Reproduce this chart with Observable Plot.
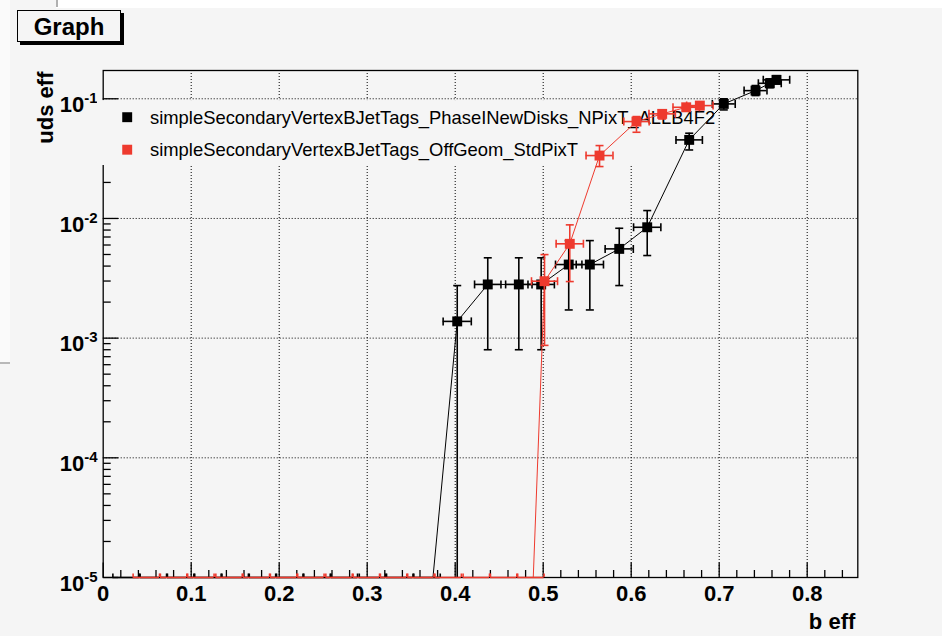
<!DOCTYPE html>
<html><head><meta charset="utf-8">
<script src="https://cdn.jsdelivr.net/npm/d3@7"></script>
<script src="https://cdn.jsdelivr.net/npm/@observablehq/plot@0.6"></script>
<style>
html,body{margin:0;padding:0;background:#f5f5f5;}
body{width:942px;height:636px;position:relative;overflow:hidden;font-family:"Liberation Sans",Arial,Helvetica,sans-serif;}
#chart{position:absolute;left:0;top:0;}
#topstrip{position:absolute;left:56px;top:0;width:886px;height:8px;background:#ffffff;}
#topline{position:absolute;left:56px;top:0;width:2px;height:7px;background:#b0b0b0;}
#leftstrip{position:absolute;left:0;top:0;width:10px;height:362px;background:#fafafa;border-bottom:2px solid #b8b8b8;}
#title{position:absolute;left:17px;top:10px;width:102px;height:30px;border:1px solid #000;box-shadow:3px 3px 0 #000;background:#f5f5f5;font-weight:bold;font-size:24px;line-height:31px;text-align:center;}
</style></head>
<body>
<div id="topstrip"></div><div id="topline"></div><div id="leftstrip"></div>
<div id="chart"></div>
<div id="title">Graph</div>
<script>
// ---------- data ----------
const seriesNames = ["simpleSecondaryVertexBJetTags_PhaseINewDisks_NPixT_ALLB4F2", "simpleSecondaryVertexBJetTags_OffGeom_StdPixT"];
const seriesColors = ["#000000", "#ee3a2e"];

// black series (PhaseINewDisks) – non-zero points
const blackX    = [0.4023, 0.437, 0.4723, 0.4977, 0.529, 0.553, 0.5864, 0.6182, 0.6659, 0.7052, 0.7413, 0.7575, 0.7651];
const blackY    = [1.38e-3, 2.81e-3, 2.81e-3, 2.81e-3, 4.12e-3, 4.12e-3, 5.57e-3, 8.44e-3, 0.04535, 0.0906, 0.117, 0.1347, 0.1439];
const blackEX   = [0.016, 0.015, 0.015, 0.015, 0.015, 0.0155, 0.016, 0.0155, 0.015, 0.013, 0.013, 0.013, 0.015];
const blackEYlo = [1.5e-3, 2.01e-3, 2.01e-3, 2.01e-3, 2.40e-3, 2.40e-3, 2.82e-3, 3.54e-3, 0.0080, 0.0099, 0.0106, 0.011, 0.011];
const blackEYhi = [1.37e-3, 1.88e-3, 1.88e-3, 1.88e-3, 2.41e-3, 2.41e-3, 2.71e-3, 3.2e-3, 0.0062, 0.0094, 0.012, 0.012, 0.012];
// black series – points with zero uds efficiency
const blackZeroX = [0.026, 0.057, 0.088, 0.119, 0.150, 0.181, 0.212, 0.243, 0.274, 0.306, 0.337, 0.368];
const blackZeroEX = 0.015;

// red series (OffGeom) – non-zero points
const redX    = [0.5015, 0.5302, 0.564, 0.606, 0.6352, 0.6625, 0.678];
const redY    = [2.99e-3, 6.14e-3, 0.03354, 0.0645, 0.0748, 0.0849, 0.0877];
const redEX   = [0.0148, 0.0155, 0.0153, 0.0144, 0.015, 0.015, 0.015];
const redEYlo = [2.12e-3, 3.17e-3, 0.0064, 0.012, 0.007, 0.006, 0.006];
const redEYhi = [2.0e-3, 2.7e-3, 0.0071, 0.0065, 0.005, 0.005, 0.005];
// red series – points with zero uds efficiency
const redZeroX = [0.049, 0.080, 0.111, 0.143, 0.174, 0.205, 0.236, 0.268, 0.299, 0.330, 0.361, 0.392, 0.424, 0.455, 0.486];
const redZeroEX = 0.015;

// axes
const xTicks = [0, 0.1, 0.2, 0.3, 0.4, 0.5, 0.6, 0.7, 0.8];
const xTickLabels = ["0", "0.1", "0.2", "0.3", "0.4", "0.5", "0.6", "0.7", "0.8"];
const yTicks = [1e-5, 1e-4, 1e-3, 1e-2, 1e-1];
const yTickBase = "10";
const yTickExponents = ["-5", "-4", "-3", "-2", "-1"];
const xTitle = "b eff";
const yTitle = "uds eff";

// ---------- build ----------
function buildSeries(xs, ys, exs, lo, hi, zx, zex, color, name) {
  const pts = xs.map((x, i) => ({x, y: ys[i], ex: exs[i], eyl: lo[i], eyh: hi[i], color, name}));
  const zeros = zx.map(x => ({x, y: 0, ex: zex, eyl: 0, eyh: 0, color, name}));
  return {pts, zeros, all: [...zeros, ...pts].sort((a, b) => a.x - b.x)};
}
const black = buildSeries(blackX, blackY, blackEX, blackEYlo, blackEYhi, blackZeroX, blackZeroEX, seriesColors[0], seriesNames[0]);
const red = buildSeries(redX, redY, redEX, redEYlo, redEYhi, redZeroX, redZeroEX, seriesColors[1], seriesNames[1]);

const YMIN = 1e-5, YMAX = 0.1723, FLOOR = 3e-6;
const sym = (x1, y1, x2, y2) => ({draw(c) { c.moveTo(x1, y1); c.lineTo(x2, y2); }});
const tickUpMajor = sym(0, 0, 0, -15), tickUpMinor = sym(0, 0, 0, -7.5);
const tickRtMajor = sym(0, 0, 15, 0), tickRtMinor = sym(0, 0, 7.5, 0);
const capH = sym(-4, 0, 4, 0), capV = sym(0, -4, 0, 4);

const xMinor = d3.range(1, 43).map(i => i * 0.02).filter(v => Math.abs(v * 10 - Math.round(v * 10)) > 1e-6);
const yMinor = [];
for (let e = -5; e <= -1; e++) for (let m = 2; m <= 9; m++) { const v = m * Math.pow(10, e); if (v < YMAX) yMinor.push(v); }

const legendBox = [{x1: -0.0065, x2: 0.69, y1: 0.0277, y2: 0.0966}];
const legendMarks = seriesNames.flatMap((n, i) => [
  Plot.dot([n], {frameAnchor: "top-left", dx: 24, dy: 46.7 + i * 32.5, symbol: "square", r: 5.6, fill: seriesColors[i], stroke: "none"}),
  Plot.text([n], {text: d => d, frameAnchor: "top-left", textAnchor: "start", lineAnchor: "bottom", dx: 46.8, dy: 53 + i * 32.5, fontSize: 18.4, fill: "black"})
]);

function seriesMarks(s) {
  const col = s.pts[0].color;
  const yb = d => d.y > 0 ? d.y : YMIN;
  const xcaps = s.all.flatMap(d => [{x: d.x - d.ex, y: yb(d)}, {x: d.x + d.ex, y: yb(d)}]);
  const ycaps = s.pts.flatMap(d => {
    const r = [{x: d.x, y: d.y + d.eyh}];
    if (d.y - d.eyl > 0) r.push({x: d.x, y: d.y - d.eyl});
    return r;
  });
  return [
    Plot.line(s.all, {x: "x", y: d => d.y > 0 ? d.y : FLOOR, stroke: col, strokeWidth: 1, clip: true}),
    Plot.ruleY(s.all, {y: yb, x1: d => d.x - d.ex, x2: d => d.x + d.ex, stroke: col, strokeWidth: 1.6}),
    Plot.ruleX(s.pts, {x: "x", y1: d => d.y - d.eyl > 0 ? d.y - d.eyl : YMIN, y2: d => d.y + d.eyh, stroke: col, strokeWidth: 1.6}),
    Plot.dot(xcaps, {x: "x", y: "y", symbol: capV, fill: "none", stroke: col, strokeWidth: 1.6, clip: true}),
    Plot.dot(ycaps, {x: "x", y: "y", symbol: capH, fill: "none", stroke: col, strokeWidth: 1.6}),
    Plot.dot(s.pts, {x: "x", y: "y", symbol: "square", r: 5.6, fill: col, stroke: "none"})
  ];
}

const plot = Plot.plot({
  width: 942, height: 636,
  marginLeft: 102.7, marginRight: 84.7, marginTop: 70, marginBottom: 59,
  style: {background: "transparent", fontFamily: '"Liberation Sans", Arial, Helvetica, sans-serif', color: "black"},
  x: {domain: [0, 0.8575]},
  y: {type: "log", domain: [YMIN, YMAX]},
  marks: [
    Plot.gridX(xTicks.filter(v => v > 0), {stroke: "black", strokeOpacity: 1, strokeWidth: 1, strokeDasharray: "1,2"}),
    Plot.gridY(yTicks.filter(v => v > YMIN), {stroke: "black", strokeOpacity: 1, strokeWidth: 1, strokeDasharray: "1,2"}),
    Plot.frame({stroke: "black", strokeWidth: 1.3}),
    Plot.dot(xTicks, {x: d => d, frameAnchor: "bottom", symbol: tickUpMajor, fill: "none", stroke: "black", strokeWidth: 1.3}),
    Plot.dot(xMinor, {x: d => d, frameAnchor: "bottom", symbol: tickUpMinor, fill: "none", stroke: "black", strokeWidth: 1.3}),
    Plot.dot(yTicks, {y: d => d, frameAnchor: "left", symbol: tickRtMajor, fill: "none", stroke: "black", strokeWidth: 1.3}),
    Plot.dot(yMinor, {y: d => d, frameAnchor: "left", symbol: tickRtMinor, fill: "none", stroke: "black", strokeWidth: 1.3}),
    Plot.axisX(xTicks, {tickSize: 0, tickPadding: 8, fontSize: 22, fontWeight: "bold", label: null,
      tickFormat: d => xTickLabels[xTicks.indexOf(d)]}),
    Plot.axisY(yTicks, {tickSize: 0, tickPadding: 5.5, fontSize: 22, fontWeight: "bold", label: null, dy: 6,
      tickFormat: d => "§" + yTicks.indexOf(d)}),
    Plot.text([yTitle], {text: d => d, frameAnchor: "top-left", rotate: -90, textAnchor: "end", lineAnchor: "bottom", dx: -50.5, dy: 1, fontSize: 22, fontWeight: "bold"}),
    Plot.text([xTitle], {text: d => d, frameAnchor: "bottom-right", textAnchor: "end", lineAnchor: "bottom", dx: -2.5, dy: 51, fontSize: 22, fontWeight: "bold"}),
    // legend
    Plot.rect(legendBox, {x1: "x1", x2: "x2", y1: "y1", y2: "y2", fill: "#f5f5f5"}),
    ...legendMarks,
    ...seriesMarks(black),
    ...seriesMarks(red)
  ]
});
document.getElementById("chart").appendChild(plot);

// y tick labels: base "10" with a raised exponent
const NS = "http://www.w3.org/2000/svg";
plot.querySelectorAll("text").forEach(t => {
  const m = /^§(\d+)$/.exec(t.textContent);
  if (!m) return;
  const i = +m[1];
  t.textContent = "";
  const base = document.createElementNS(NS, "tspan");
  base.textContent = yTickBase;
  const sup = document.createElementNS(NS, "tspan");
  sup.setAttribute("dy", "-9");
  sup.setAttribute("font-size", "15");
  sup.textContent = yTickExponents[i];
  t.appendChild(base);
  t.appendChild(sup);
});
</script>
</body></html>
